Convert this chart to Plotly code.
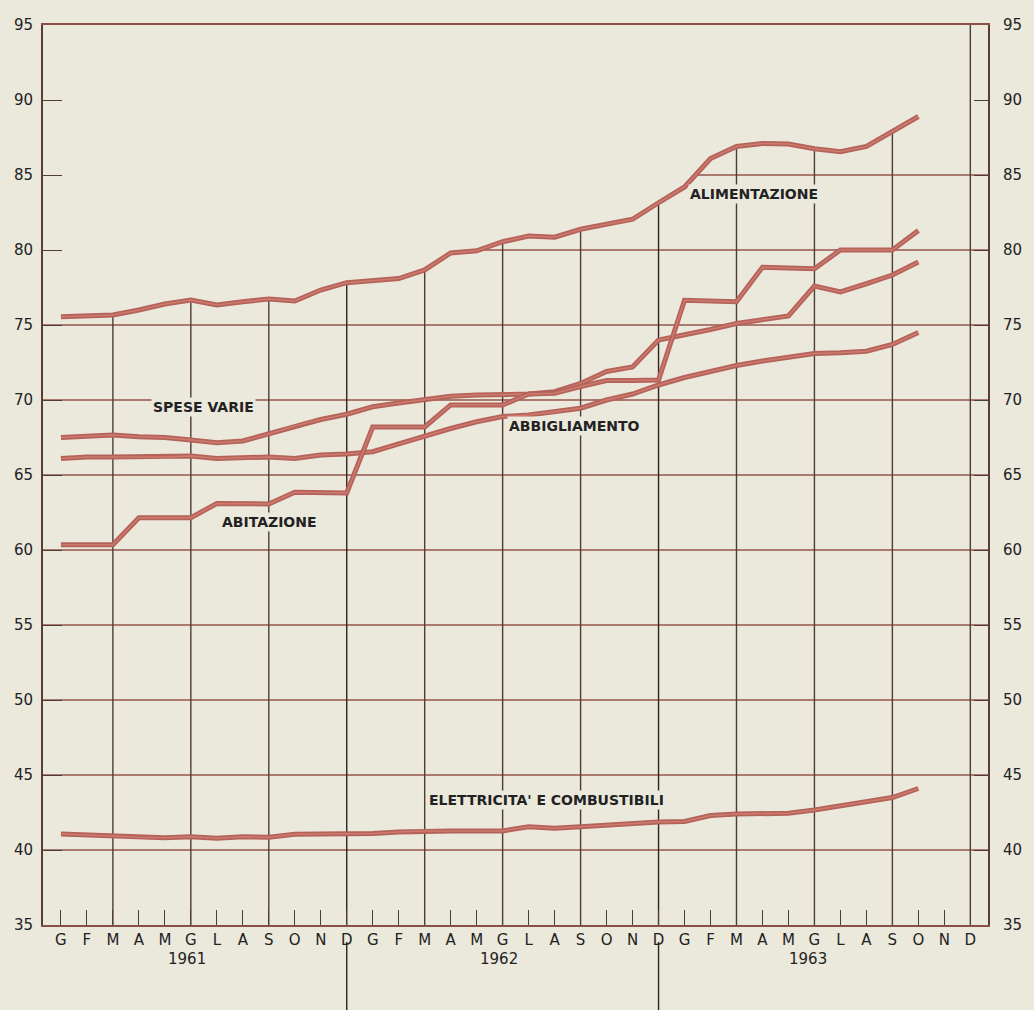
import plotly.graph_objects as go

# ---------------- data ----------------
months = ["G", "F", "M", "A", "M", "G", "L", "A", "S", "O", "N", "D"] * 3
years = ["1961", "1962", "1963"]
yticks = [35, 40, 45, 50, 55, 60, 65, 70, 75, 80, 85, 90, 95]

alimentazione = [75.55, 75.6, 75.67, 76.0, 76.4, 76.67, 76.33, 76.55, 76.73, 76.6, 77.33, 77.82,
                 77.95, 78.1, 78.67, 79.8, 79.95, 80.55, 80.93, 80.85, 81.38, 81.73, 82.05, 83.15,
                 84.2, 86.1, 86.9, 87.1, 87.07, 86.75, 86.55, 86.9, 87.9, 88.9]
spese_varie = [67.5, 67.6, 67.67, 67.55, 67.5, 67.33, 67.15, 67.27, 67.73, 68.27, 68.7, 69.05,
               69.55, 69.8, 70.0, 70.25, 70.33, 70.38, 70.4, 70.55, 71.1, 71.9, 72.2, 74.0,
               74.33, 74.7, 75.1, 75.35, 75.6, 77.6, 77.2, 77.75, 78.33, 79.2]
abbigliamento = [66.1, 66.2, 66.2, 66.2, 66.2, 66.27, 66.1, 66.15, 66.2, 66.1, 66.33, 66.4,
                 66.55, 67.07, 67.6, 68.1, 68.55, 68.9, 69.0, 69.2, 69.45, 70.0, 70.4, 71.0,
                 71.5, 71.9, 72.3, 72.6, 72.85, 73.1, 73.15, 73.25, 73.7, 74.5]
abitazione = [60.35, 60.35, 60.35, 62.15, 62.15, 62.15, 63.1, 63.07, 63.07, 63.85, 63.85, 63.8,
              68.2, 68.2, 68.2, 69.67, 69.67, 69.67, 70.4, 70.45, 70.9, 71.3, 71.3, 71.33,
              76.65, 76.6, 76.55, 78.85, 78.8, 78.75, 80.0, 80.0, 80.0, 81.3]
elettricita = [41.07, 41.02, 40.93, 40.85, 40.82, 40.89, 40.78, 40.89, 40.85, 41.05, 41.05, 41.05,
               41.1, 41.2, 41.27, 41.27, 41.27, 41.27, 41.55, 41.45, 41.55, 41.67, 41.78, 41.87,
               41.9, 42.3, 42.4, 42.45, 42.45, 42.67, 42.93, 43.2, 43.5, 44.1]

series = [alimentazione, spese_varie, abbigliamento, abitazione, elettricita]
labels = ["ALIMENTAZIONE", "SPESE VARIE", "ABBIGLIAMENTO", "ABITAZIONE",
          "ELETTRICITA' E COMBUSTIBILI"]
label_pos = [(26.67, 83.73), (5.47, 69.53), (19.77, 68.27), (8.04, 61.87), (18.7, 43.33)]
year_pos = [4.85, 16.85, 28.75]

# ---------------- style ----------------
BG = "#ebe8dc"
HGRID = "#94564d"
VGRID = "#4e3c37"
LINE_OUT = "#b5625a"
LINE_IN = "#cd7b6f"
TXT = "#222222"
FONT = "DejaVu Sans"

XMIN, XMAX = -0.69, 35.68
idx = list(range(len(alimentazione)))

fig = go.Figure()

# mask above the top curve (grid is not drawn there in the original)
mx = [XMIN, XMIN] + idx + [XMAX, XMAX]
my = [95, alimentazione[0]] + alimentazione + [alimentazione[-1], 95]
fig.add_trace(go.Scatter(x=mx, y=my, fill="toself", fillcolor=BG, mode="lines",
                         line=dict(width=0, color=BG), hoverinfo="skip", showlegend=False))

for s in series:
    fig.add_trace(go.Scatter(x=idx, y=s, mode="lines", line=dict(color=LINE_OUT, width=5),
                             hoverinfo="skip", showlegend=False))
    fig.add_trace(go.Scatter(x=idx, y=s, mode="lines", line=dict(color=LINE_IN, width=1.5),
                             hoverinfo="skip", showlegend=False))

# trace for right axis
fig.add_trace(go.Scatter(x=[None], y=[None], yaxis="y2", showlegend=False, hoverinfo="skip"))

shapes = []
# horizontal grid
for v in yticks[1:-1]:
    shapes.append(dict(type="line", xref="x", yref="y", x0=XMIN, x1=XMAX, y0=v, y1=v,
                       line=dict(color=HGRID, width=1.5), layer="below"))
# vertical grid every 3 months
for m in range(2, 35, 3):
    col = "#2e2422" if m in (11, 23) else VGRID
    shapes.append(dict(type="line", xref="x", yref="y", x0=m, x1=m, y0=35, y1=95,
                       line=dict(color=col, width=1.4), layer="below"))
# last december line full height
shapes.append(dict(type="line", xref="x", yref="y", x0=35, x1=35, y0=35, y1=95,
                   line=dict(color=VGRID, width=1.4), layer="above"))
# year separators below the axis
for m in (11, 23):
    shapes.append(dict(type="line", xref="x", yref="paper", x0=m, x1=m, y0=-17 / 900, y1=-85 / 900,
                       line=dict(color="#2e2422", width=1.4), layer="above"))

annotations = []
for (lx, ly), t in zip(label_pos, labels):
    annotations.append(dict(x=lx, y=ly, xref="x", yref="y", text=t, showarrow=False,
                            font=dict(family=FONT, size=14, color=TXT, weight="bold"),
                            bgcolor=BG, borderpad=1))
for yx, yt in zip(year_pos, years):
    annotations.append(dict(x=yx, y=-34 / 900, xref="x", yref="paper", text=yt, showarrow=False,
                            font=dict(family=FONT, size=15, color=TXT), yanchor="middle"))

yax = dict(range=[35, 95], tickvals=yticks, ticktext=[str(v) for v in yticks],
           ticks="inside", tickcolor=VGRID, tickwidth=1.4, showline=True, linecolor="#5a3c36",
           linewidth=2, showgrid=False, zeroline=False,
           tickfont=dict(family=FONT, size=15, color=TXT))

fig.update_layout(
    width=1034, height=1010,
    margin=dict(l=43, r=38, t=25, b=85),
    paper_bgcolor=BG, plot_bgcolor=BG,
    showlegend=False,
    xaxis=dict(range=[XMIN, XMAX], tickvals=list(range(36)), ticktext=months,
               ticks="inside", ticklen=15, tickcolor=VGRID, tickwidth=1.2,
               showline=True, linecolor="#8a4f46", linewidth=1.6, mirror=True,
               showgrid=False, zeroline=False,
               tickfont=dict(family=FONT, size=15, color=TXT)),
    yaxis=dict(**yax, ticklen=19, side="left", ticklabelstandoff=5),
    yaxis2=dict(**yax, ticklen=14, side="right", overlaying="y", ticklabelstandoff=10),
    shapes=shapes,
    annotations=annotations,
)

fig.write_html("out.html", config={"displayModeBar": False},
               post_script="document.body.style.margin='0';")
